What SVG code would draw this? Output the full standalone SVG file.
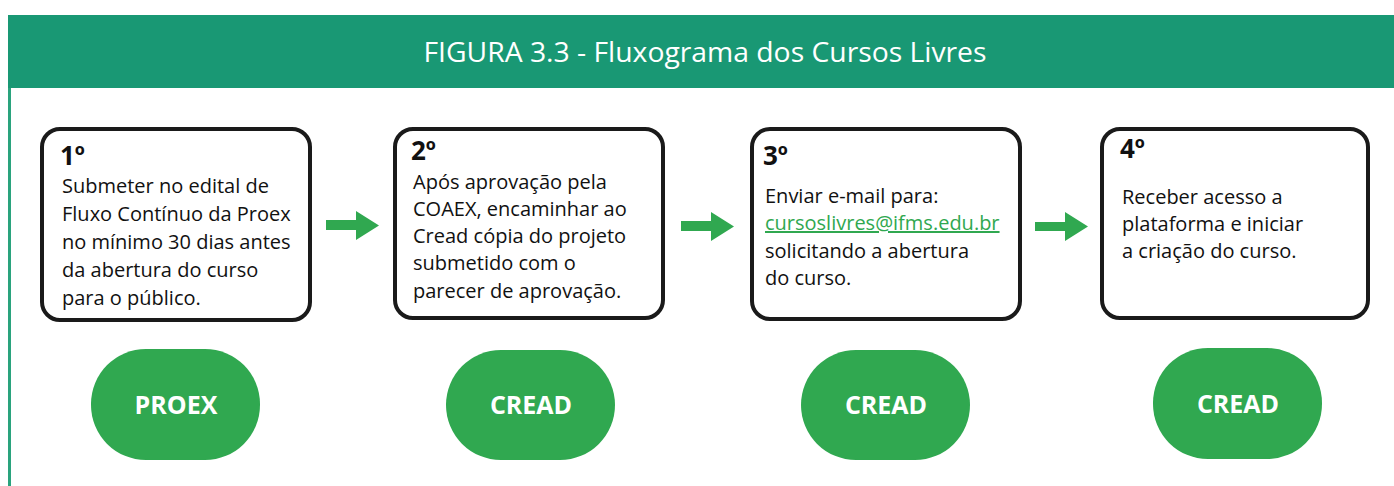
<svg xmlns="http://www.w3.org/2000/svg" width="1394" height="486" viewBox="0 0 1394 486">
<style>
.box{fill:#fff;stroke:#1a1a1a;stroke-width:4}
.num{font-family:"Open Sans",sans-serif;font-weight:700;font-size:26px;fill:#111}
.txt{font-family:"Open Sans",sans-serif;font-size:20px;fill:#111}
.pill{fill:#30a850}
.ptxt{font-family:"Open Sans",sans-serif;font-weight:700;font-size:25px;fill:#fff;text-anchor:middle}
.arr{fill:#30a850}
.link{fill:#30a850;text-decoration:underline}
</style>
<rect width="1394" height="486" fill="#fff"/>
<g id="header">
<rect x="8" y="15" width="1386" height="73" fill="#199874"/>
<rect x="8" y="88" width="3" height="398" fill="#2aa37d"/>
<text x="705" y="62" text-anchor="middle" font-family="'Open Sans',sans-serif" font-size="28" fill="#fff" textLength="563" lengthAdjust="spacingAndGlyphs">FIGURA 3.3 - Fluxograma dos Cursos Livres</text>
</g>
<g id="step1">
<rect class="box" x="42" y="129" width="268" height="191" rx="18"/>
<text class="num" x="60" y="165">1º</text>
<text class="txt" x="62"><tspan x="62" y="193">Submeter no edital de</tspan><tspan x="62" y="221">Fluxo Contínuo da Proex</tspan><tspan x="62" y="249">no mínimo 30 dias antes</tspan><tspan x="62" y="277">da abertura do curso</tspan><tspan x="62" y="305">para o público.</tspan></text>
</g>
<g id="step2">
<rect class="box" x="395" y="129" width="268" height="189" rx="18"/>
<text class="num" x="411" y="160">2º</text>
<text class="txt"><tspan x="413" y="189">Após aprovação pela</tspan><tspan x="413" y="216">COAEX, encaminhar ao</tspan><tspan x="413" y="243">Cread cópia do projeto</tspan><tspan x="413" y="270">submetido com o</tspan><tspan x="413" y="298">parecer de aprovação.</tspan></text>
</g>
<g id="step3">
<rect class="box" x="752" y="129" width="268" height="190" rx="18"/>
<text class="num" x="763" y="165">3º</text>
<text class="txt"><tspan x="765" y="203">Enviar e-mail para:</tspan><tspan class="link" x="765" y="230">cursoslivres@ifms.edu.br</tspan><tspan x="765" y="258">solicitando a abertura</tspan><tspan x="765" y="285">do curso.</tspan></text>
</g>
<g id="step4">
<rect class="box" x="1102" y="129" width="266" height="189" rx="18"/>
<text class="num" x="1120" y="158">4º</text>
<text class="txt"><tspan x="1122" y="204">Receber acesso a</tspan><tspan x="1122" y="231">plataforma e iniciar</tspan><tspan x="1122" y="258">a criação do curso.</tspan></text>
</g>
<g id="actor1"><rect class="pill" x="91" y="349" width="169" height="111" rx="55"/><text class="ptxt" x="176" y="414">PROEX</text></g>
<g id="actor2"><rect class="pill" x="446" y="350" width="169" height="110" rx="55"/><text class="ptxt" x="531" y="414">CREAD</text></g>
<g id="actor3"><rect class="pill" x="801" y="350" width="169" height="110" rx="55"/><text class="ptxt" x="886" y="414">CREAD</text></g>
<g id="actor4"><rect class="pill" x="1153" y="348" width="169" height="111" rx="55"/><text class="ptxt" x="1238" y="413">CREAD</text></g>
<g id="connectors">
<path class="arr" d="M326 220 H356 V211 L379 225.5 L356 240 V230 H326 Z"/>
<path class="arr" d="M681 221 H711 V212 L734 226.5 L711 241 V231 H681 Z"/>
<path class="arr" d="M1035 222 H1065 V212 L1088 226.5 L1065 241 V231 H1035 Z"/>
</g>
</svg>
